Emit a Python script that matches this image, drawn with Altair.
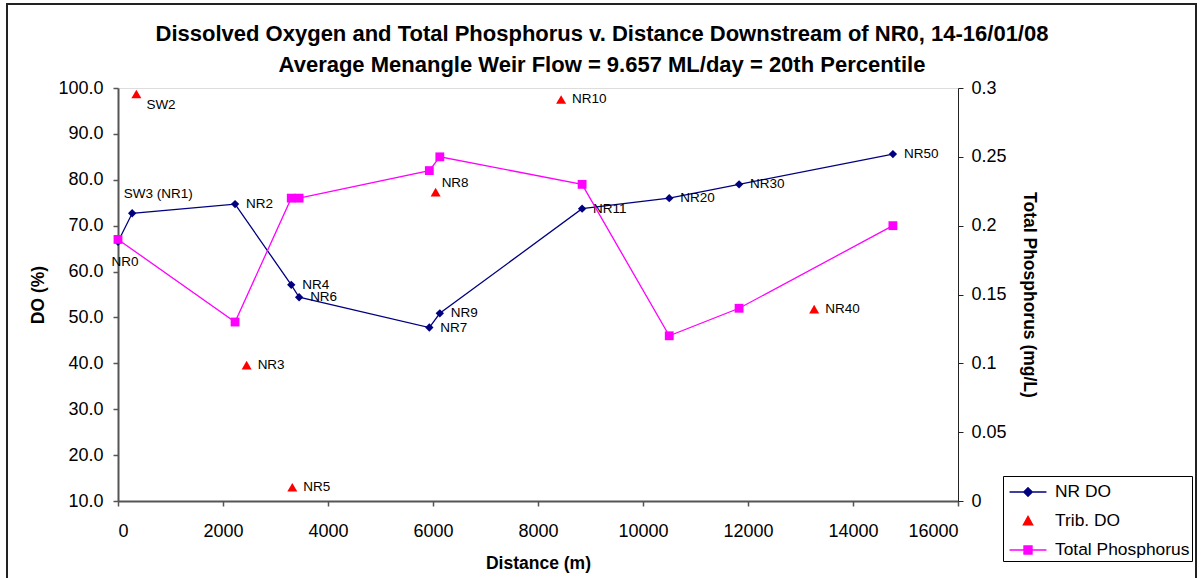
import altair as alt
import pandas as pd

FONT = "Liberation Sans"

# ---- data ----
nr_sites = ["NR0", "SW3 (NR1)", "NR2", "NR4", "NR6", "NR7", "NR9", "NR11", "NR20", "NR30", "NR50"]
nr_dist = [0, 270, 2230, 3300, 3450, 5930, 6130, 8840, 10500, 11830, 14760]
nr_do = [66.5, 72.7, 74.7, 57.1, 54.4, 47.8, 50.9, 73.7, 76.0, 79.0, 85.6]

trib_sites = ["SW2", "NR3", "NR5", "NR8", "NR10", "NR40"]
trib_dist = [350, 2450, 3320, 6050, 8440, 13260]
trib_do = [98.7, 39.6, 13.0, 77.3, 97.5, 51.8]

tp_sites = ["NR0", "NR2", "NR4", "NR6", "NR7", "NR9", "NR11", "NR20", "NR30", "NR50"]
tp_dist = [0, 2230, 3300, 3450, 5930, 6130, 8840, 10500, 11830, 14760]
tp_val = [0.19, 0.13, 0.22, 0.22, 0.24, 0.25, 0.23, 0.12, 0.14, 0.20]

series_names = ["NR DO", "Trib. DO", "Total Phosphorus"]
series_colors = ["#000080", "#FF0000", "#FF00FF"]

x_ticks = list(range(0, 16001, 2000))
do_ticks = [10, 20, 30, 40, 50, 60, 70, 80, 90, 100]
tp_ticks = [0, 0.05, 0.1, 0.15, 0.2, 0.25, 0.3]

title_lines = [
    "Dissolved Oxygen and Total Phosphorus v. Distance Downstream of NR0, 14-16/01/08",
    "Average Menangle Weir Flow = 9.657 ML/day = 20th Percentile",
]

nr_df = pd.DataFrame({"site": nr_sites, "distance": nr_dist, "do": nr_do})
trib_df = pd.DataFrame({"site": trib_sites, "distance": trib_dist, "do": trib_do})
tp_df = pd.DataFrame({"site": tp_sites, "distance": tp_dist, "tp": tp_val})
legend_df = pd.DataFrame({"series": series_names})

axis_common = dict(grid=False, labelFont=FONT, titleFont=FONT, labelFontSize=18, titleFontSize=17.5,
                   labelColor="black", titleColor="black", titleFontWeight="bold", tickSize=5)

# ---- encodings ----
x_enc = alt.X(
    "distance:Q",
    scale=alt.Scale(domain=[0, 16000], nice=False, zero=False),
    axis=alt.Axis(values=x_ticks, title="Distance (m)", format="d", orient="bottom",
                  domainColor="#555555", domainWidth=2, tickColor="#555555", tickWidth=1.5,
                  labelPadding=16, titlePadding=14, **axis_common),
)
y_do = alt.Y(
    "do:Q",
    scale=alt.Scale(domain=[10, 100], nice=False, zero=False),
    axis=alt.Axis(values=do_ticks, format=".1f", title="DO (%)", orient="left",
                  domainColor="#555555", domainWidth=2, tickColor="#555555", tickWidth=1.5,
                  labelPadding=10, titlePadding=10, **axis_common),
)
y_tp = alt.Y(
    "tp:Q",
    scale=alt.Scale(domain=[0, 0.3], nice=False, zero=False),
    axis=alt.Axis(values=tp_ticks, format="~g", title="Total Phosphorus (mg/L)", orient="right",
                  domainColor="#222222", domainWidth=1, tickColor="#222222", tickWidth=1,
                  labelPadding=8, titlePadding=13, **axis_common),
)

# ---- outer frame ----
frame = alt.Chart(legend_df).mark_rect(fillOpacity=0, stroke="#222222", strokeWidth=2).encode(
    x=alt.value(-111), x2=alt.value(1078), y=alt.value(-84), y2=alt.value(600)
).transform_filter("datum.series == 'NR DO'")

nr_line = alt.Chart(nr_df).mark_line(color="#000080", strokeWidth=1.3).encode(x=x_enc, y=y_do)
nr_pts = alt.Chart(nr_df).mark_point(shape="diamond", filled=True, size=70, color="#000080", opacity=1).encode(
    x=x_enc, y=y_do)

trib_pts = alt.Chart(trib_df).mark_point(shape="triangle-up", filled=True, size=100, color="#FF0000", opacity=1).encode(
    x=x_enc, y=y_do)

lab_style = dict(font=FONT, fontSize=13.5, color="black")
nr_lab_right = alt.Chart(nr_df).mark_text(align="left", baseline="middle", dx=11, **lab_style).encode(
    x=x_enc, y=y_do, text="site:N"
).transform_filter(alt.FieldOneOfPredicate(field="site", oneOf=nr_sites[2:]))
nr_lab_nr0 = alt.Chart(nr_df).mark_text(align="center", baseline="middle", dx=7, dy=20, **lab_style).encode(
    x=x_enc, y=y_do, text="site:N"
).transform_filter(alt.FieldEqualPredicate(field="site", equal="NR0"))
nr_lab_sw3 = alt.Chart(nr_df).mark_text(align="center", baseline="middle", dx=26, dy=-19, **lab_style).encode(
    x=x_enc, y=y_do, text="site:N"
).transform_filter(alt.FieldEqualPredicate(field="site", equal="SW3 (NR1)"))

trib_lab_right = alt.Chart(trib_df).mark_text(align="left", baseline="middle", dx=11, **lab_style).encode(
    x=x_enc, y=y_do, text="site:N"
).transform_filter(alt.FieldOneOfPredicate(field="site", oneOf=["NR3", "NR5", "NR10", "NR40"]))
trib_lab_sw2 = alt.Chart(trib_df).mark_text(align="left", baseline="middle", dx=10, dy=11, **lab_style).encode(
    x=x_enc, y=y_do, text="site:N"
).transform_filter(alt.FieldEqualPredicate(field="site", equal="SW2"))
trib_lab_nr8 = alt.Chart(trib_df).mark_text(align="left", baseline="middle", dx=6, dy=-9, **lab_style).encode(
    x=x_enc, y=y_do, text="site:N"
).transform_filter(alt.FieldEqualPredicate(field="site", equal="NR8"))

# legend driver (no marks drawn, only the legend)
legend_paths = [
    "M-1.42,0L1.42,0M0,-0.33L0.33,0L0,0.33L-0.33,0Z",
    "M0,-0.36L0.36,0.3L-0.36,0.3Z",
    "M-1.42,0L1.42,0M-0.31,-0.31L0.31,-0.31L0.31,0.31L-0.31,0.31Z",
]
legend_def = alt.Legend(
    title=None, orient="none", legendX=885, legendY=388,
    labelFont=FONT, labelFontSize=17.4, labelColor="black", labelOffset=13,
    strokeColor="black", fillColor="white", padding=2, rowPadding=6,
    symbolSize=676, symbolStrokeWidth=1.3, symbolOffset=9,
)
legend_layer = alt.Chart(legend_df).mark_point(filled=True, size=676, opacity=1).encode(
    fill=alt.Fill("series:N", scale=alt.Scale(domain=series_names, range=series_colors), legend=legend_def, sort=series_names),
    stroke=alt.Stroke("series:N", scale=alt.Scale(domain=series_names, range=series_colors), legend=legend_def, sort=series_names),
    shape=alt.Shape("series:N", scale=alt.Scale(domain=series_names, range=legend_paths), legend=legend_def, sort=series_names),
).transform_filter("false")

do_layer = alt.layer(frame, nr_line, nr_pts, trib_pts, nr_lab_right, nr_lab_nr0, nr_lab_sw3,
                     trib_lab_right, trib_lab_sw2, trib_lab_nr8, legend_layer)

tp_line = alt.Chart(tp_df).mark_line(color="#FF00FF", strokeWidth=1.3).encode(x=x_enc, y=y_tp)
tp_pts = alt.Chart(tp_df).mark_point(shape="square", filled=True, size=78, color="#FF00FF", opacity=1).encode(
    x=x_enc, y=y_tp)
tp_layer = alt.layer(tp_line, tp_pts)

chart = alt.layer(do_layer, tp_layer).resolve_scale(y="independent").properties(
    width=840, height=413,
    autosize=alt.AutoSizeParams(type="none"),
    padding={"left": 118, "top": 88, "right": 244, "bottom": 77},
    title=alt.TitleParams(text=title_lines, font=FONT, fontSize=22, fontWeight="bold", color="black",
                          anchor="middle", frame="group", dx=64, dy=76, offset=2, lineHeight=31),
).configure_view(stroke="#888888", strokeWidth=1).configure(background="white")

chart.save("out.html", embed_options={"renderer": "svg", "actions": False})
